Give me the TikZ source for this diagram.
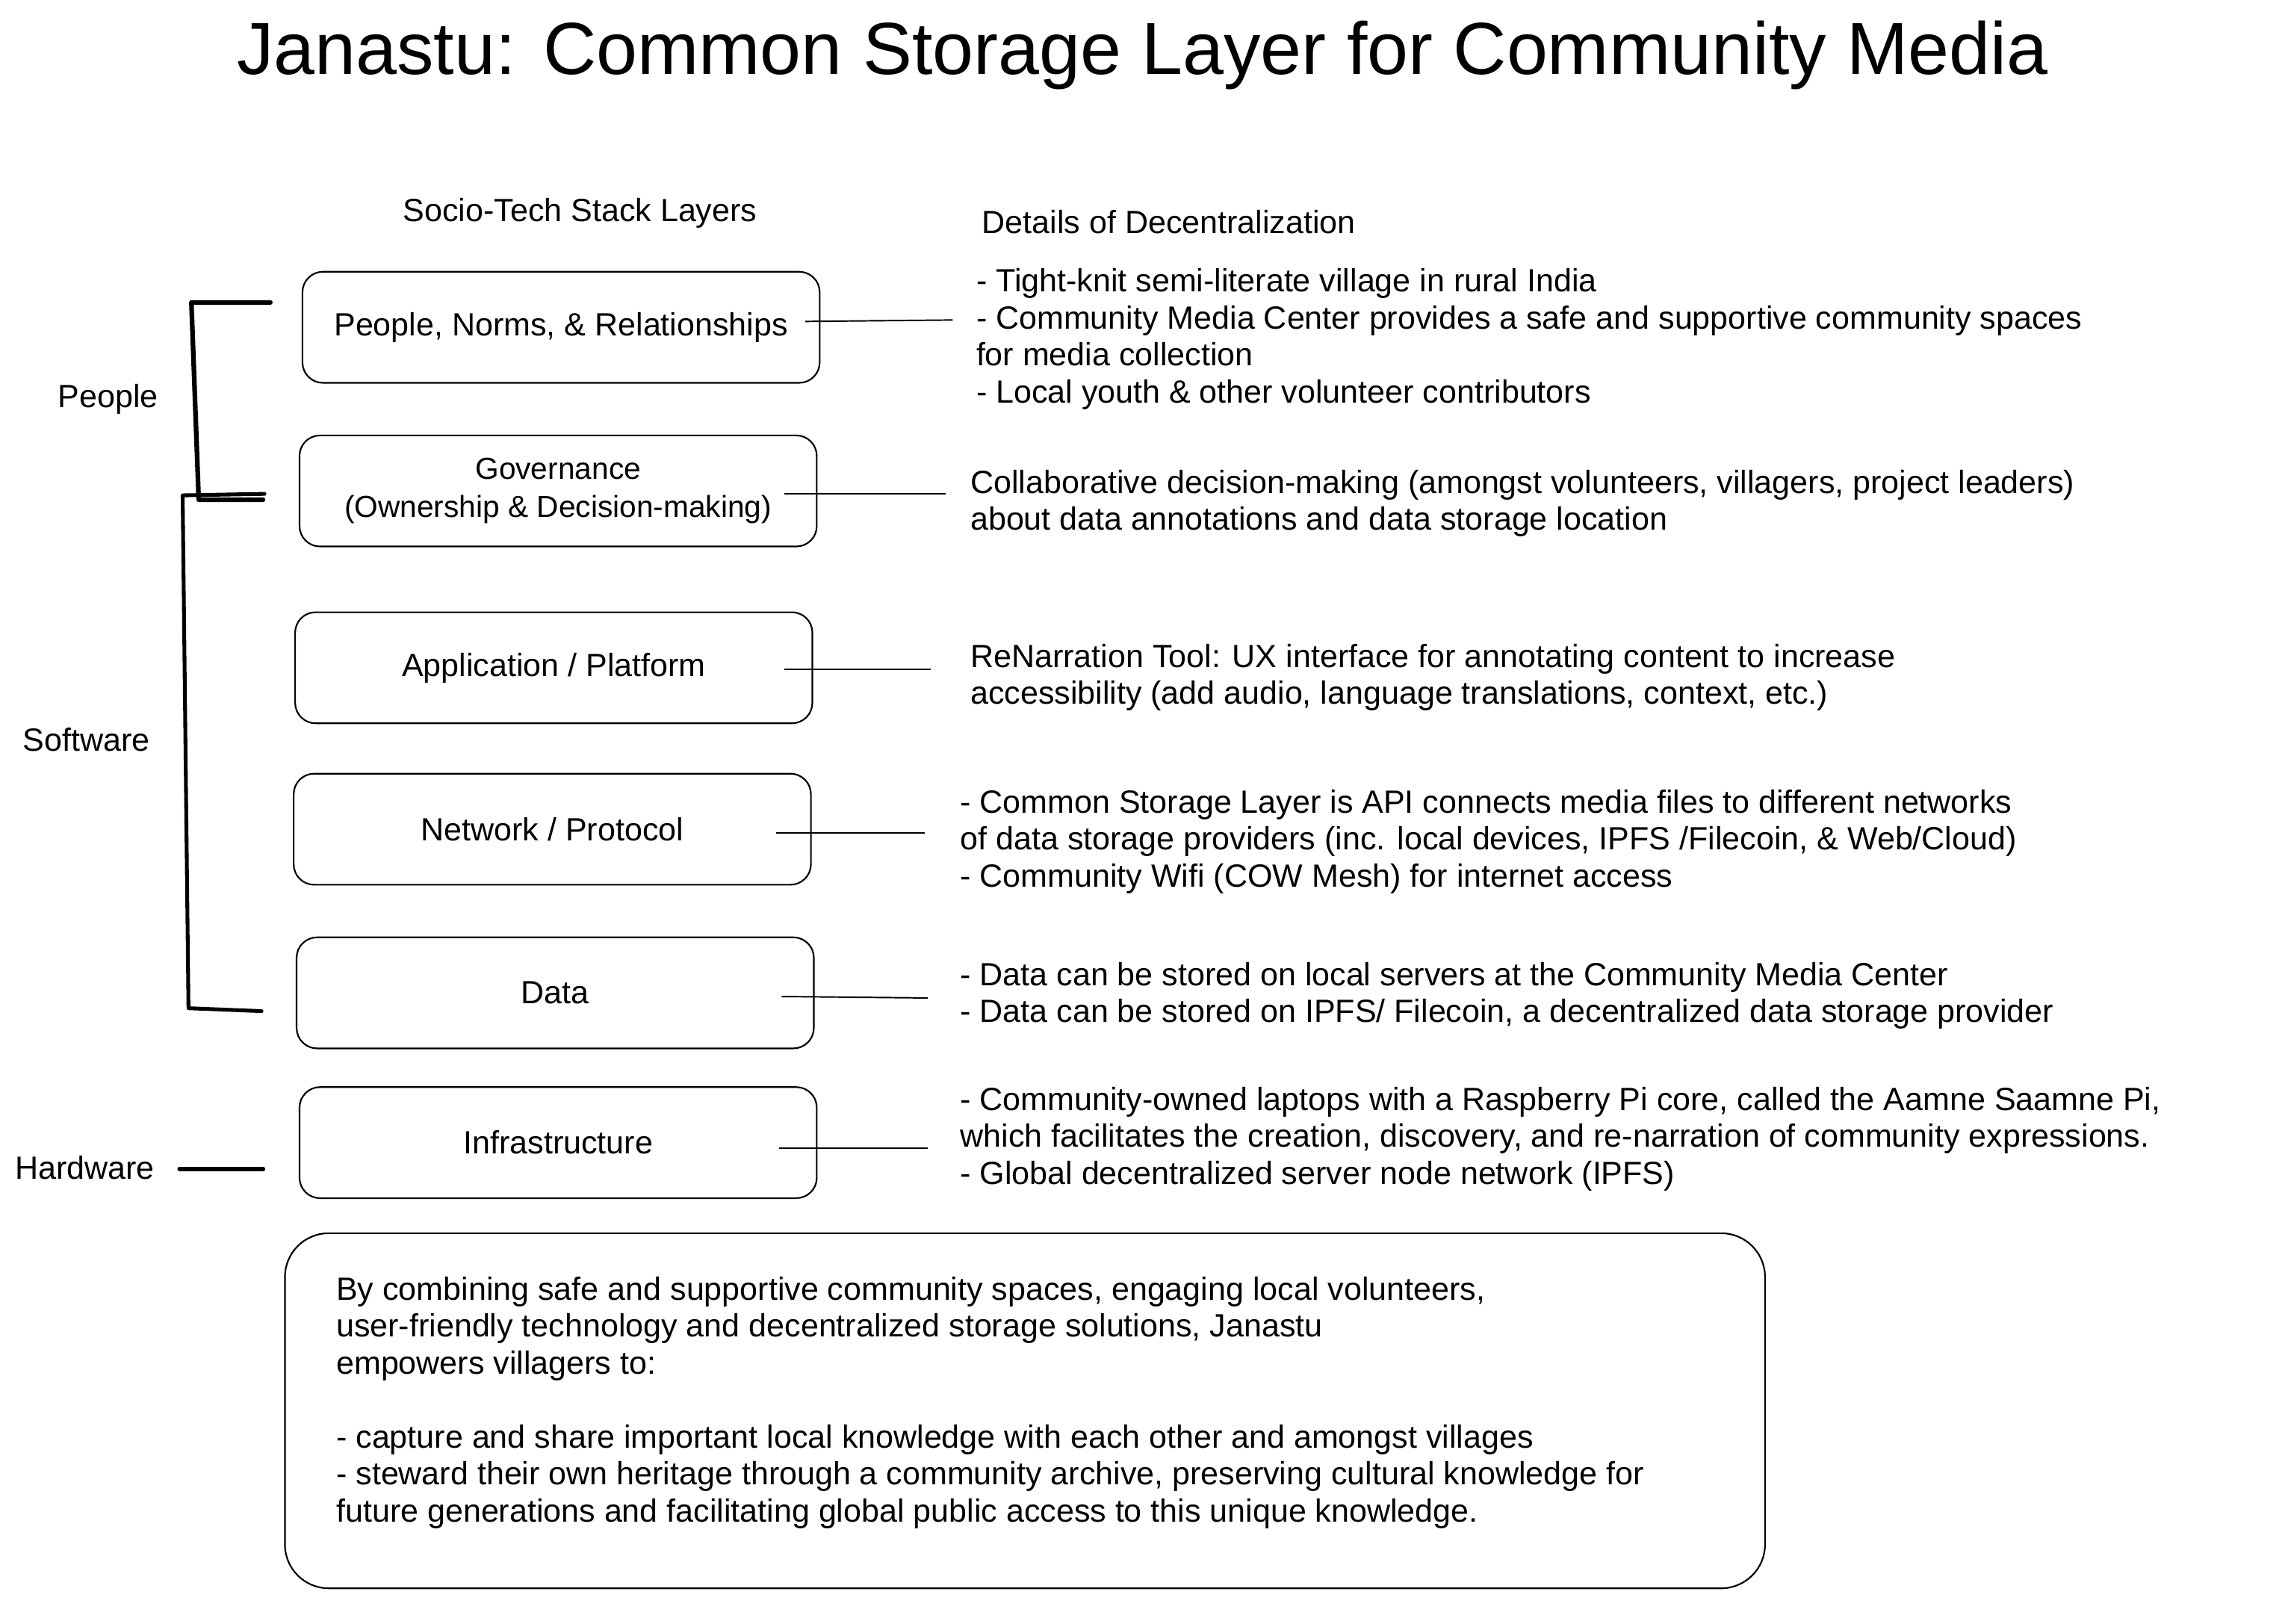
\documentclass[tikz,border=0pt]{standalone}
\usepackage{fontspec}
\setmainfont{Liberation Sans}
\begin{document}
\begin{tikzpicture}[x=1pt,y=-1pt,
  body/.style={font=\fontsize{22}{25.3}\selectfont, inner sep=0pt, align=left},
  layerbox/.style={draw, line width=1.1pt, rounded corners=14pt, minimum width=354pt, minimum height=76pt, align=center, font=\fontsize{22}{26}\selectfont, inner sep=0pt},
  conn/.style={line width=1pt},
  brace/.style={line width=3.2pt, line join=round, line cap=round}]
\useasboundingbox (0,0) rectangle (1568,1111.4);
\fill[white] (0,0) rectangle (1568,1111.4);

% title and headers
\node[font=\fontsize{50.5}{54}\selectfont, inner sep=0pt] (title) at (782,38) {Janastu: Common Storage Layer for Community Media};
\node[body, anchor=center] (hleft) at (397,146) {Socio-Tech Stack Layers};
\node[body, anchor=west] (hright) at (672,152) {Details of Decentralization};

% layer boxes
\node[layerbox] (b1) at (384,224) {People, Norms, \& Relationships};
\node[layerbox, font=\fontsize{20.8}{26}\selectfont] (b2) at (382,336) {Governance\\(Ownership \& Decision-making)};
\node[layerbox] (b3) at (379,457) {Application / Platform};
\node[layerbox] (b4) at (378,567.5) {Network / Protocol};
\node[layerbox] (b5) at (380,679.5) {Data};
\node[layerbox] (b6) at (382,782) {Infrastructure};

% details
\node[body, anchor=west] (d1) at (668,232) {- Tight-knit semi-literate village in rural India\\- Community Media Center provides a safe and supportive community spaces\\for media collection\\- Local youth \& other volunteer contributors};
\node[body, anchor=west] (d2) at (664,344.5) {Collaborative decision-making (amongst volunteers, villagers, project leaders)\\about data annotations and data storage location};
\node[body, anchor=west] (d3) at (664,463.5) {ReNarration Tool: UX interface for annotating content to increase\\accessibility (add audio, language translations, context, etc.)};
\node[body, anchor=west] (d4) at (657,576) {- Common Storage Layer is API connects media files to different networks\\of data storage providers (inc. local devices, IPFS /Filecoin, \& Web/Cloud)\\- Community Wifi (COW Mesh) for internet access};
\node[body, anchor=west] (d5) at (657,681.5) {- Data can be stored on local servers at the Community Media Center\\- Data can be stored on IPFS/ Filecoin, a decentralized data storage provider};
\node[body, anchor=west] (d6) at (657,779.5) {- Community-owned laptops with a Raspberry Pi core, called the Aamne Saamne Pi,\\which facilitates the creation, discovery, and re-narration of community expressions.\\- Global decentralized server node network (IPFS)};

% connector end points
\coordinate (c1a) at (551,220); \coordinate (c1b) at (652,219);
\coordinate (c2a) at (537,338); \coordinate (c2b) at (647,338);
\coordinate (c3a) at (537,458); \coordinate (c3b) at (637,458);
\coordinate (c4a) at (531,570); \coordinate (c4b) at (633,570);
\coordinate (c5a) at (535,682); \coordinate (c5b) at (635,683);
\coordinate (c6a) at (533,786); \coordinate (c6b) at (635,786);
\draw[conn] (c1a) -- (c1b);
\draw[conn] (c2a) -- (c2b);
\draw[conn] (c3a) -- (c3b);
\draw[conn] (c4a) -- (c4b);
\draw[conn] (c5a) -- (c5b);
\draw[conn] (c6a) -- (c6b);

% left labels
\node[body] (lp) at (74,273) {People};
\node[body] (ls) at (59,506) {Software};
\node[body] (lh) at (58,799) {Hardware};

% brackets
\coordinate (p1) at (185,207); \coordinate (p2) at (131,207);
\coordinate (p3) at (136,342); \coordinate (p4) at (180,342);
\draw[brace] (p1) -- (p2) -- (p3) -- (p4);
\coordinate (s1) at (181,338); \coordinate (s2) at (125,339);
\coordinate (s3) at (129,690); \coordinate (s4) at (179,692);
\draw[brace, line width=2.6pt] (s1) -- (s2) -- (s3) -- (s4);
\coordinate (h1) at (123,800); \coordinate (h2) at (180,800);
\draw[brace] (h1) -- (h2);

% summary box
\node[draw, line width=1.1pt, rounded corners=30pt, minimum width=1013pt, minimum height=243pt, inner sep=0pt] (sum) at (701.5,965.5) {};
\node[body, anchor=west] (sumtext) at (230,960) {By combining safe and supportive community spaces, engaging local volunteers,\\user-friendly technology and decentralized storage solutions, Janastu\\empowers villagers to:\\[25.3pt]- capture and share important local knowledge with each other and amongst villages\\- steward their own heritage through a community archive, preserving cultural knowledge for\\future generations and facilitating global public access to this unique knowledge.};
\end{tikzpicture}
\end{document}
